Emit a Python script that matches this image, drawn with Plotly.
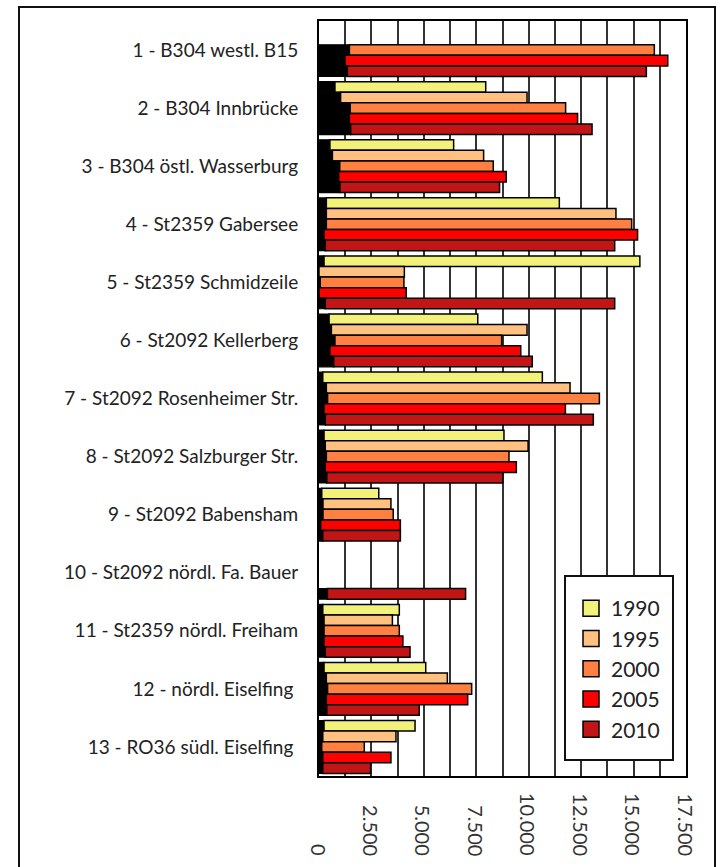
import plotly.graph_objects as go

categories = [
    "1 - B304 westl. B15",
    "2 - B304 Innbrücke",
    "3 - B304 östl. Wasserburg",
    "4 - St2359 Gabersee",
    "5 - St2359 Schmidzeile",
    "6 - St2092 Kellerberg",
    "7 - St2092 Rosenheimer Str.",
    "8 - St2092 Salzburger Str.",
    "9 - St2092 Babensham",
    "10 - St2092 nördl. Fa. Bauer",
    "11 - St2359 nördl. Freiham",
    "12 - nördl. Eiselfing\u00a0",
    "13 - RO36 südl. Eiselfing\u00a0",
]

years = ["1990", "1995", "2000", "2005", "2010"]

# total traffic per point (bar end)
total_1990 = [None, 7950, 6420, 11460, 15300, 7570, 10650, 8820, 2850, None, 3830, 5090, 4580]
total_1995 = [None, 9920, 7850, 14160, 4070, 9920, 11970, 9970, 3430, None, 3500, 6120, 3670]
total_2000 = [15990, 11760, 8310, 14910, 4050, 8710, 13370, 9060, 3540, None, 3830, 7280, 2160]
total_2005 = [16630, 12330, 8930, 15190, 4160, 9620, 11750, 9410, 3880, None, 4000, 7090, 3430]
total_2010 = [15610, 13020, 8610, 14100, 14100, 10170, 13080, 8760, 3880, 6990, 4340, 4780, 2460]

# heavy traffic share (black segment)
heavy_1990 = [None, 760, 520, 350, 240, 480, 180, 240, 130, None, 180, 240, 240]
heavy_1995 = [None, 1030, 640, 350, 0, 590, 350, 300, 190, None, 240, 350, 180]
heavy_2000 = [1450, 1490, 990, 350, 60, 760, 410, 350, 190, None, 240, 410, 130]
heavy_2005 = [1240, 1450, 940, 240, 0, 520, 240, 300, 80, None, 240, 350, 180]
heavy_2010 = [1350, 1510, 1000, 300, 300, 700, 300, 370, 180, 400, 300, 370, 180]

x_ticks = [0, 2500, 5000, 7500, 10000, 12500, 15000, 17500]
x_tick_labels = ["0", "2.500", "5.000", "7.500", "10.000", "12.500", "15.000", "17.500"]

colors = ["#F2F27A", "#FFC080", "#FF8040", "#FF0000", "#C21515"]

totals = [total_1990, total_1995, total_2000, total_2005, total_2010]
heavies = [heavy_1990, heavy_1995, heavy_2000, heavy_2005, heavy_2010]

fig = go.Figure()
for yr, tot, hv, col in zip(years, totals, heavies, colors):
    light = [None if (t is None) else t - (h or 0) for t, h in zip(tot, hv)]
    base = [0 if h is None else h for h in hv]
    fig.add_trace(go.Bar(
        y=categories, x=hv, orientation="h", offsetgroup=yr,
        marker=dict(color="black", line=dict(color="black", width=1.2)),
        showlegend=False, hoverinfo="skip",
    ))
    fig.add_trace(go.Bar(
        y=categories, x=light, base=base, orientation="h", offsetgroup=yr,
        marker=dict(color=col, line=dict(color="black", width=1.5)),
        showlegend=False, name=yr,
    ))
    # legend swatch
    fig.add_trace(go.Scatter(
        x=[None], y=[None], mode="markers", name=yr,
        marker=dict(symbol="square", size=16, color=col, line=dict(color="black", width=1.5)),
    ))

PW, PH = 367, 755  # plot area size in px

for v, t in zip(x_ticks, x_tick_labels):
    fig.add_annotation(
        x=v, xref="x", y=(776 - 858) / PH, yref="paper", text=t, textangle=90,
        showarrow=False, xanchor="center", yanchor="bottom",
        font=dict(family="Lato", size=20, color="#333333"),
    )

# outer frame
fig.add_shape(type="rect", xref="paper", yref="paper",
              x0=(19 - 319) / PW, x1=(715 - 319) / PW,
              y0=-0.3, y1=(776 - 7) / PH,
              line=dict(color="#111111", width=2), layer="below")
# legend box
fig.add_shape(type="rect", xref="paper", yref="paper",
              x0=(565 - 319) / PW, x1=(673 - 319) / PW,
              y0=(776 - 760) / PH, y1=(776 - 576) / PH,
              line=dict(color="#111111", width=2), fillcolor="white", layer="above")

fig.update_layout(
    width=720, height=867,
    margin=dict(l=319, r=34, t=21, b=91),
    paper_bgcolor="white", plot_bgcolor="white",
    barmode="group", bargap=0.09, bargroupgap=0,
    font=dict(family="Lato", color="#222222"),
    showlegend=True,
    legend=dict(
        x=(571 - 319) / PW, y=(776 - 588) / PH, xanchor="left", yanchor="top",
        borderwidth=0, bgcolor="rgba(0,0,0,0)",
        font=dict(family="Lato", size=21, color="#222222"),
        itemwidth=30, tracegroupgap=0,
    ),
    xaxis=dict(
        range=[0, 17500], dtick=1250, tick0=0,
        showticklabels=False, ticks="",
        showgrid=True, gridcolor="#333333", gridwidth=1.5,
        showline=True, linecolor="black", linewidth=2, mirror=True,
        zeroline=False,
    ),
    yaxis=dict(
        categoryorder="array", categoryarray=categories,
        autorange="reversed", showgrid=False,
        showline=True, linecolor="black", linewidth=2, mirror=True,
        ticks="", ticklabelstandoff=15,
        tickfont=dict(family="Lato", size=19, color="#222222"),
    ),
)

fig.write_html(
    "out.html",
    config={"displayModeBar": False},
    post_script="document.body.style.margin='0';document.body.style.overflow='hidden';",
)
